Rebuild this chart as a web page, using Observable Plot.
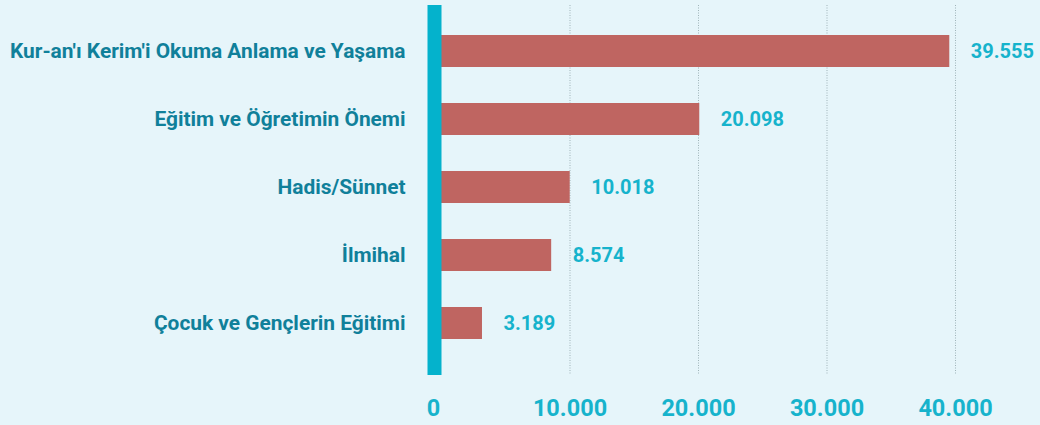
<!DOCTYPE html>
<html>
<head>
<meta charset="utf-8">
<script src="https://cdn.jsdelivr.net/npm/d3@7"></script>
<script src="https://cdn.jsdelivr.net/npm/@observablehq/plot@0.6"></script>
<style>
  html, body { margin: 0; padding: 0; background: #e6f5fa; }
  #chart { width: 1040px; height: 425px; }
</style>
</head>
<body>
<div id="chart"></div>
<script>
const categories = [
  "Kur-an'ı Kerim'i Okuma Anlama ve Yaşama",
  "Eğitim ve Öğretimin Önemi",
  "Hadis/Sünnet",
  "İlmihal",
  "Çocuk ve Gençlerin Eğitimi"
];
const values = [39555, 20098, 10018, 8574, 3189];
const xTicks = [0, 10000, 20000, 30000, 40000];

const data = categories.map((c, i) => ({category: c, value: values[i]}));
const fmt = d => d3.format(",")(d).replace(/,/g, ".");

const chart = Plot.plot({
  width: 1040,
  height: 425,
  marginLeft: 441,
  marginRight: 85,
  marginTop: 5,
  marginBottom: 50,
  style: {background: "#e6f5fa", fontFamily: "Roboto, sans-serif"},
  x: {domain: [0, 40000], ticks: xTicks, tickFormat: fmt},
  y: {domain: categories, range: [16, 357], paddingInner: 0.53, paddingOuter: 0.265},
  marks: [
    Plot.ruleX(xTicks.slice(1), {stroke: "#9fb3b8", strokeDasharray: "1,1.5", strokeWidth: 1}),
    Plot.barX(data, {x: "value", y: "category", fill: "#bf6561"}),
    Plot.ruleX([0], {stroke: "#04b2cc", strokeWidth: 14, dx: -7}),
    Plot.text(data, {
      x: "value", y: "category", text: d => fmt(d.value),
      textAnchor: "start", dx: 21, fill: "#16b3cc",
      fontSize: 20, fontWeight: 700
    }),
    Plot.axisY({
      tickSize: 0, tickPadding: 36, label: null,
      fontSize: 20.9, fontWeight: 700, color: "#10809a"
    }),
    Plot.axisX({
      ticks: xTicks.slice(1), tickFormat: fmt, tickSize: 0, tickPadding: 24, label: null,
      fontSize: 23.5, fontWeight: 700, color: "#16b3cc"
    }),
    Plot.axisX({
      ticks: [0], tickFormat: fmt, tickSize: 0, tickPadding: 24, label: null, dx: -8,
      fontSize: 23.5, fontWeight: 700, color: "#16b3cc"
    })
  ]
});
document.getElementById("chart").appendChild(chart);
</script>
</body>
</html>
